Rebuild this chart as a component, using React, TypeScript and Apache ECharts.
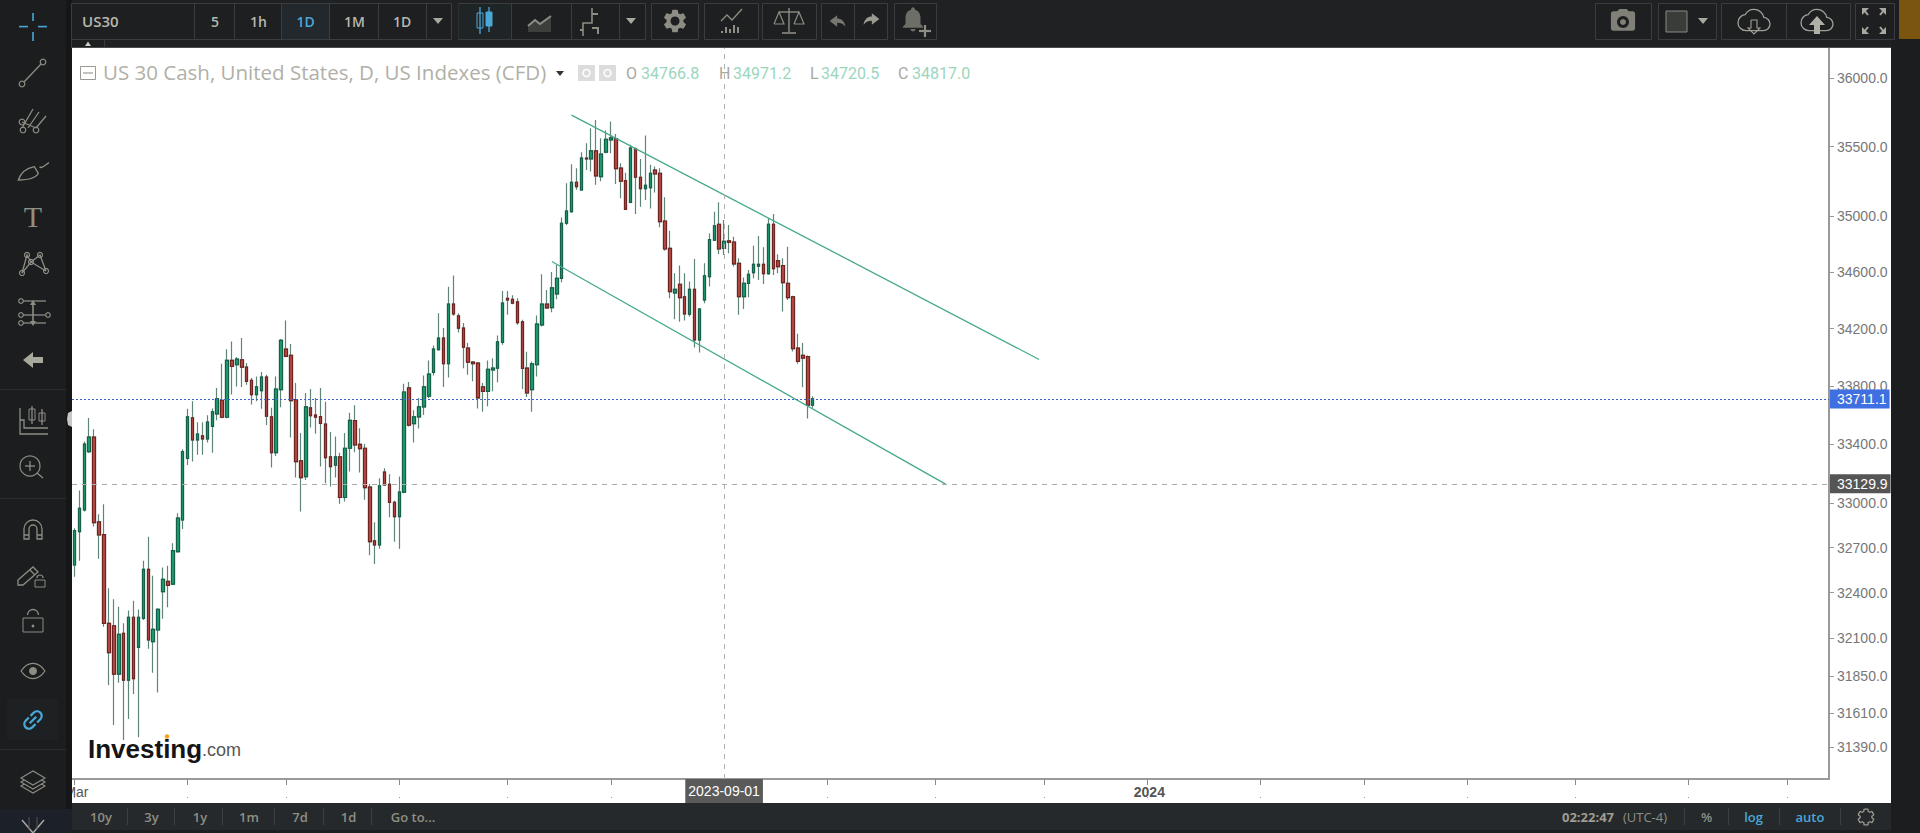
import React, { useEffect, useRef } from "react";
import * as echarts from "echarts";

// [open, close, low, high]
const ohlc: number[][] = [
  [32583,32813,32505,32829],[32807,32964,32612,33084],[32953,33401,32942,33418],[33349,33448,33340,33580],
  [33448,32868,32841,33503],[32872,32784,32625,32924],[32786,32196,32173,32991],[32196,32003,31792,32428],
  [32180,31863,31532,32355],[31863,32123,31807,32306],[32130,31824,31436,32196],[31824,32236,31571,32280],
  [32236,31833,31733,32346],[32038,32236,31453,32288],[32229,32554,32218,32612],[32554,32086,32029,32773],
  [32075,32156,31872,32512],[32152,32288,31742,32295],[32406,32487,32227,32567],[32474,32448,32302,32578],
  [32456,32679,32450,32728],[32672,32897,32665,32931],[32885,33349,32825,33365],[33302,33587,33258,33643],
  [33580,33430,33281,33695],[33430,33469,33327,33550],[33457,33436,33327,33550],[33436,33552,33411,33599],
  [33522,33622,33342,33645],[33608,33711,33564,33787],[33702,33585,33578,33955],[33585,33978,33578,34057],
  [33978,33936,33741,34111],[33948,33988,33798,34002],[33983,33931,33794,34134],[33931,33833,33810,33960],
  [33840,33741,33672,33856],[33741,33794,33695,33867],[33769,33862,33643,33897],[33862,33592,33531,33878],
  [33587,33342,33240,33650],[33342,33780,33320,33867],[33775,34118,33654,34127],[34057,34007,34000,34257],
  [34014,33700,33445,34092],[33706,33281,33172,33821],[33286,33172,32942,33476],[33179,33656,33156,33752],
  [33650,33596,33515,33780],[33599,33585,33471,33718],[33589,33543,33247,33787],[33538,33308,33134,33691],
  [33313,33247,33111,33483],[33256,33313,33172,33452],[33313,33037,32994,33342],[33037,33372,33010,33476],
  [33372,33564,33213,33615],[33562,33395,33345,33668],[33399,33370,33206,33510],[33372,33104,33021,33401],
  [33107,32739,32648,33129],[32744,32717,32590,32870],[32717,33116,32692,33168],[33209,33122,33115,33236],
  [33127,33003,32904,33195],[33005,32908,32739,33015],[32908,33073,32692,33179],[33073,33759,33066,33816],
  [33787,33531,33522,33828],[33541,33587,33411,33633],[33587,33656,33508,33718],[33656,33794,33601,33874],
  [33730,33883,33718,33978],[33895,34057,33874,34083],[34053,34134,34048,34309],[34134,33955,33794,34204],
  [33955,34372,33860,34496],[34372,34304,34290,34574],[34290,34204,34174,34309],[34204,34071,33924,34239],
  [34064,33966,33878,34099],[33966,33955,33833,33975],[33960,33718,33645,33968],[33794,33764,33622,33821],
  [33764,33917,33661,33978],[33913,33924,33764,33994],[33924,34108,33826,34153],[34104,34379,34087,34466],
  [34414,34402,34297,34466],[34407,34379,34372,34435],[34388,34243,34227,34414],[34248,33922,33780,34262],
  [33924,33752,33725,34039],[33775,33955,33622,33971],[33948,34232,33867,34292],[34227,34372,34215,34583],
  [34372,34346,34339,34473],[34348,34487,34316,34600],[34445,34555,34407,34650],[34555,34947,34527,34989],
  [34947,35035,34935,35235],[35030,35242,35023,35373],[35242,35211,35187,35344],[35187,35416,35180,35460],
  [35416,35411,35331,35525],[35411,35469,35319,35634],[35469,35288,35223,35695],[35283,35445,35249,35561],
  [35460,35554,35452,35617],[35549,35564,35452,35683],[35559,35341,35230,35593],[35344,35249,35127,35379],
  [35254,35047,35042,35310],[35097,35489,35090,35513],[35484,35278,35013,35494],[35278,35196,35066,35411],
  [35196,35220,35114,35581],[35203,35307,35052,35368],[35329,35302,35168,35356],[35307,34958,34918,35344],
  [34963,34763,34751,35133],[34768,34461,34414,34894],[34452,34477,34267,34590],[34513,34419,34248,34645],
  [34424,34304,34257,34590],[34302,34477,34285,34532],[34477,34122,34069,34692],[34122,34337,34034,34345],
  [34402,34572,34379,34661],[34567,34831,34497,34874],[34827,34928,34820,35030],[34940,34763,34728,35097],
  [34766.8,34817.0,34720.5,34971.2],[34822,34810,34732,34935],[34813,34657,34638,34850],[34661,34426,34297,34697],
  [34426,34520,34339,34560],[34518,34583,34421,34614],[34595,34654,34555,34786],[34642,34654,34543,34855],
  [34654,34588,34515,34775],[34588,34940,34581,34982],[34940,34623,34578,35013],[34680,34638,34591,34725],
  [34645,34525,34320,34697],[34520,34419,34402,34779],[34424,34060,34041,34432],[34064,33971,33955,34164],
  [34014,33994,33792,34099],[34005,33668,33576,34012],[33668,33711.1,33650,33730],
];

const priceTicks = [36000,35500,35000,34600,34200,33800,33400,33000,32700,32400,32100,31850,31610,31390];
const lastPrice = 33711.1;
const crossPrice = 33129.9;
const crossDate = "2023-09-01";
const firstDate = "2023-03-01";
const weekdayCount = 357;
const tickLabels: Record<string, string> = { "2023-03-01": "Mar", "2024-01-01": "2024" };
// channel lines: [slot index, price] pairs
const upperChannel = [[101, 35730], [196, 33985]];
const lowerChannel = [[97, 34674], [177, 33128]];

const categories: string[] = [];
{
  const d = new Date(firstDate + "T00:00:00Z");
  while (categories.length < weekdayCount) {
    const w = d.getUTCDay();
    if (w !== 0 && w !== 6) categories.push(d.toISOString().slice(0, 10));
    d.setUTCDate(d.getUTCDate() + 1);
  }
}
const monthStart = new Set<number>();
categories.forEach((c, i) => {
  if (i === 0 || c.slice(0, 7) !== categories[i - 1].slice(0, 7)) monthStart.add(i);
});

const paths: Record<string, string> = {
  gear: "M19.43 12.98c.04-.32.07-.64.07-.98s-.03-.66-.07-.98l2.11-1.65c.19-.15.24-.42.12-.64l-2-3.46c-.12-.22-.39-.3-.61-.22l-2.49 1c-.52-.4-1.08-.73-1.69-.98l-.38-2.65C14.46 2.18 14.25 2 14 2h-4c-.25 0-.46.18-.49.42l-.38 2.65c-.61.25-1.17.59-1.69.98l-2.49-1c-.23-.09-.49 0-.61.22l-2 3.46c-.13.22-.07.49.12.64l2.11 1.65c-.04.32-.07.65-.07.98s.03.66.07.98l-2.11 1.65c-.19.15-.24.42-.12.64l2 3.46c.12.22.39.3.61.22l2.49-1c.52.4 1.08.73 1.69.98l.38 2.65c.03.24.24.42.49.42h4c.25 0 .46-.18.49-.42l.38-2.65c.61-.25 1.17-.59 1.69-.98l2.49 1c.23.09.49 0 .61-.22l2-3.46c.12-.22.07-.49-.12-.64l-2.11-1.65z",
  camera: "M9 2L7.17 4H4c-1.1 0-2 .9-2 2v12c0 1.1.9 2 2 2h16c1.1 0 2-.9 2-2V6c0-1.1-.9-2-2-2h-3.17L15 2H9z",
  bell: "M12 22c1.1 0 2-.9 2-2h-4c0 1.1.9 2 2 2zm6-6v-5c0-3.07-1.64-5.64-4.5-6.32V4c0-.83-.67-1.5-1.5-1.5s-1.5.67-1.5 1.5v.68C7.63 5.36 6 7.92 6 11v5l-2 2v1h16v-1l-2-2z",
  cloud: "M19.35 10.04C18.67 6.59 15.64 4 12 4 9.11 4 6.6 5.64 5.35 8.04 2.34 8.36 0 10.91 0 14c0 3.31 2.69 6 6 6h13c2.76 0 5-2.24 5-5 0-2.64-2.05-4.78-4.65-4.96z",
  undo: "M2 12L11 5V9C16 9 20 12 21 19C18 15 15 14 11 14V19Z",
  link: "M3.9 12c0-1.71 1.39-3.1 3.1-3.1h4V7H7c-2.76 0-5 2.24-5 5s2.24 5 5 5h4v-1.9H7c-1.71 0-3.1-1.39-3.1-3.1zM8 13h8v-2H8v2zm9-6h-4v1.9h4c1.71 0 3.1 1.39 3.1 3.1s-1.39 3.1-3.1 3.1h-4V17h4c2.76 0 5-2.24 5-5s-2.24-5-5-5z",
  magnet: "M3 21V11A9 9 0 0 1 21 11V21H16V11A4 4 0 0 0 8 11V21ZM3 17H8M16 17H21",
  eye: "M1 12C5 6 9 5 12 5S19 6 23 12C19 18 15 19 12 19S5 18 1 12Z",
  brush: "M1 21C3 15 8 12 13 11L16 16C14 20 9 21 1 21ZM17 11C18 13 21 10 24 8",
  pencil: "M1 18L16 5L21 10L6 23L1 23ZM13 8L18 13",
};
Object.keys(paths).forEach((k) => {
  echarts.graphic.registerShape("ic_" + k, echarts.graphic.extendPath(paths[k], {}));
});

const ICON = "#8d8d84";
const BLUE = "#4aa8d8";
const Z = 100;

function buildChrome() {
  const g: any[] = [];
  const rect = (x: number, y: number, w: number, h: number, fill: any, stroke?: any, z = Z) =>
    g.push({ type: "rect", silent: true, z, shape: { x, y, width: w, height: h }, style: { fill, stroke, lineWidth: 1 } });
  const line = (x1: number, y1: number, x2: number, y2: number, stroke = ICON, lineWidth = 1.3, z = Z + 2) =>
    g.push({ type: "line", silent: true, z, shape: { x1, y1, x2, y2 }, style: { stroke, lineWidth } });
  const circle = (cx: number, cy: number, r: number, stroke: any = ICON, fill: any = "none", lineWidth = 1.2, z = Z + 2) =>
    g.push({ type: "circle", silent: true, z, shape: { cx, cy, r }, style: { stroke, fill, lineWidth } });
  const poly = (points: number[][], fill: any, stroke: any = "none", z = Z + 2) =>
    g.push({ type: "polygon", silent: true, z, shape: { points }, style: { fill, stroke, lineWidth: 1.2 } });
  const pline = (points: number[][], stroke = ICON, lineWidth = 1.3, z = Z + 2) =>
    g.push({ type: "polyline", silent: true, z, shape: { points }, style: { stroke, lineWidth, fill: "none" } });
  const txt = (x: number, y: number, text: string, fill: string, font: string, align = "center", z = Z + 3) =>
    g.push({ type: "text", silent: true, z, x, y, style: { text, fill, font, align, verticalAlign: "middle" } });
  const icon = (name: string, cx: number, cy: number, size: number, style: any, extra: any = {}, z = Z + 2) => {
    const s = size / 24;
    g.push({ type: "ic_" + name, silent: true, z, x: cx - 12 * s, y: cy - 12 * s, scaleX: s, scaleY: s, style: { lineWidth: 1.3 / s, ...style }, ...extra });
  };

  // panels
  rect(0, 0, 1920, 48, "#1f2123");
  rect(0, 0, 66, 833, "#1b1d1f");
  rect(66, 0, 6, 833, "#151617");
  rect(1891, 0, 29, 833, "#1b1d1f");
  rect(1899, 0, 21, 39, "#7a5510", undefined, Z + 1);
  rect(72, 803, 1819, 27, "#26292b");
  rect(72, 830, 1819, 3, "#1c1e20");
  line(72, 47.5, 1891, 47.5, "#4a4c4e", 1);

  const BOX = "#3a3d40";
  const box = (x1: number, x2: number) => rect(x1 + 0.5, 3.5, x2 - x1, 36, "#1d1f21", BOX, Z + 1);
  const div = (x: number) => line(x + 0.5, 3.5, x + 0.5, 39.5, BOX, 1);

  // top-left tool groups
  box(71, 451);
  rect(281, 4, 48, 35, "#23282c", undefined, Z + 1);
  [194, 234, 281, 329, 378, 426].forEach(div);
  rect(71.5, 39.5, 33, 8, "#1d1f21", BOX, Z + 1);
  poly([[85, 46], [91, 46], [88, 41.5]], "#cfcfc8");
  const F = '600 14px "Open Sans"';
  txt(82, 21, "US30", "#b8b8ae", '600 15px "Open Sans"', "left");
  txt(215, 21, "5", "#b8b8ae", F);
  txt(258.5, 21, "1h", "#b8b8ae", F);
  txt(305.5, 21, "1D", BLUE, F);
  txt(354.5, 21, "1M", "#b8b8ae", F);
  txt(402, 21, "1D", "#b8b8ae", F);
  const arrow = (x: number, y = 21) => poly([[x - 5, y - 3], [x + 5, y - 3], [x, y + 3]], "#a8a8a0");
  arrow(438);

  box(458, 645);
  [511, 571, 619].forEach(div);
  rect(458.5, 4, 52, 35, "#1f2427", undefined, Z + 1);
  line(480, 7, 480, 34, BLUE, 1.3);
  rect(477, 13, 6, 15, "none", BLUE, Z + 2);
  line(489, 7, 489, 32, BLUE, 1.3);
  rect(486, 12, 6, 14, BLUE, BLUE, Z + 2);
  poly([[528, 32], [528, 26], [535, 20], [540, 24], [551, 16], [551, 32]], "#3d3f3d");
  pline([[528, 26], [535, 20], [540, 24], [551, 16]], ICON, 2);
  pline([[583, 36], [583, 23], [592, 23], [592, 8]], ICON, 1.6);
  pline([[592, 14], [598, 14]], ICON, 2);
  pline([[592, 28], [598, 28], [598, 34]], ICON, 2);
  pline([[583, 30], [580, 30]], ICON, 2);
  arrow(631);

  box(651, 698);
  icon("gear", 675, 21, 27, { fill: ICON, stroke: "none" });
  circle(675, 21, 4.5, "none", "#1d1f21", 0, Z + 3);

  box(704, 758);
  [[722, 31], [726, 27], [730, 29], [734, 25], [738, 27]].forEach(([x, y]) => line(x, y, x, 33, ICON, 2));
  pline([[721, 21], [727, 15], [732, 20], [742, 9]], ICON, 1.3);

  box(762, 816);
  line(789, 8, 789, 32, ICON, 1.4);
  line(779, 12, 799, 12, ICON, 1.4);
  line(782, 33, 796, 33, ICON, 1.6);
  pline([[774, 24], [779, 12], [784, 24], [774, 24]], ICON, 1.2);
  pline([[794, 24], [799, 12], [804, 24], [794, 24]], ICON, 1.2);

  box(821, 887);
  div(854);
  icon("undo", 838, 21, 20, { fill: "#77776f", stroke: "none" });
  g.push({ type: "ic_undo", silent: true, z: Z + 2, x: 881, y: 9, scaleX: -20 / 24, scaleY: 20 / 24, style: { fill: "#9a9a90", stroke: "none" } });

  box(894, 936);
  icon("bell", 913, 19, 30, { fill: "#6e6e68", stroke: "none" });
  line(925, 25, 925, 37, ICON, 2.2);
  line(919, 31, 931, 31, ICON, 2.2);

  // top-right tool groups
  box(1595, 1651);
  icon("camera", 1623, 21, 29, { fill: "#808078", stroke: "none" });
  circle(1623, 22, 6, "none", "#1d1f21", 0, Z + 3);
  circle(1623, 22, 3, "none", "#808078", 0, Z + 3);
  box(1658, 1716);
  rect(1666, 11, 21, 21, "#3a3c3a", "#8a8a84", Z + 2);
  arrow(1703);
  box(1721, 1850);
  div(1786);
  icon("cloud", 1754, 20, 32, { fill: "none", stroke: "#a0a098" });
  pline([[1751, 20], [1757, 20], [1757, 28], [1760, 28], [1754, 34], [1748, 28], [1751, 28], [1751, 20]], "#a0a098", 1.1);
  icon("cloud", 1817, 20, 32, { fill: "none", stroke: "#a0a098" });
  poly([[1817, 16], [1825, 25], [1820, 25], [1820, 34], [1814, 34], [1814, 25], [1809, 25]], "#b0b0a6");
  box(1855, 1894);
  const ax = 1874;
  [[-1, -1], [1, -1], [-1, 1], [1, 1]].forEach(([sx, sy]) => {
    poly([[ax + sx * 12, 21 + sy * 13], [ax + sx * 5, 21 + sy * 13], [ax + sx * 12, 21 + sy * 6]], "#a8a8a0");
    line(ax + sx * 10, 21 + sy * 11, ax + sx * 6, 21 + sy * 6, "#a8a8a0", 2);
  });

  // left toolbar
  const cx = 33;
  line(19, 26.6, 28, 26.6, BLUE, 1.6);
  line(38, 26.6, 47, 26.6, BLUE, 1.6);
  line(33, 13, 33, 21, BLUE, 1.6);
  line(33, 32, 33, 41, BLUE, 1.6);

  line(24, 82, 41, 64, ICON);
  circle(22, 84, 2.8);
  circle(43, 62, 2.8);

  [[22, 128, 33, 109], [28, 128, 39, 112], [36, 128, 46, 116]].forEach(([a, b, c, d]) => line(a, b, c, d));
  line(22, 122, 36, 128);
  circle(22, 122, 2.8);
  circle(23, 130, 2.8);
  circle(36, 130, 2.8);

  icon("brush", cx, 168, 32, { fill: "none", stroke: ICON });

  txt(cx, 216, "T", "#8f8f85", '30px "Liberation Serif"');

  const p = [[22, 273], [27, 255], [31, 262], [40, 255], [46, 271]];
  pline(p);
  pline([[22, 273], [31, 262], [46, 271]]);
  p.forEach(([x, y]) => circle(x, y, 2.5));

  line(23, 301, 46, 301);
  line(23, 315, 45, 315);
  line(23, 323, 46, 323);
  [[21, 301], [21, 315], [21, 323], [48, 315]].forEach(([x, y]) => circle(x, y, 2.3));
  line(33, 304, 33, 322, ICON, 1.6);
  poly([[33, 300], [36, 305], [30, 305]], ICON);
  poly([[33, 326], [36, 321], [30, 321]], ICON);

  poly([[23, 360], [33, 352], [33, 357], [43, 357], [43, 363], [33, 363], [33, 368]], "#a8a89c");

  line(0, 389.5, 66, 389.5, "#2a2c2e", 1);
  pline([[20, 408], [20, 434], [48, 434]], ICON);
  pline([[20, 420], [24, 420], [24, 428], [48, 428]], ICON);
  rect(29, 409, 6, 11, "none", ICON, Z + 2);
  line(32, 406, 32, 424);
  rect(39, 413, 6, 8, "none", ICON, Z + 2);
  line(42, 409, 42, 425);

  circle(30, 466, 10);
  line(37, 473, 43, 478);
  line(25, 466, 35, 466);
  line(30, 461, 30, 471);
  line(0, 498.5, 66, 498.5, "#2a2c2e", 1);

  icon("magnet", cx, 530, 24, { fill: "none", stroke: ICON });

  icon("pencil", 29, 574, 24, { fill: "none", stroke: ICON });
  rect(35, 580, 10, 7, "none", ICON, Z + 2);
  g.push({ type: "arc", silent: true, z: Z + 2, shape: { cx: 40, cy: 578, r: 3, startAngle: Math.PI, endAngle: 0 }, style: { stroke: ICON, fill: "none", lineWidth: 1.2 } });

  rect(23, 618, 20, 14, "none", ICON, Z + 2);
  g.push({ type: "arc", silent: true, z: Z + 2, shape: { cx: 33, cy: 615, r: 5.5, startAngle: Math.PI, endAngle: 0 }, style: { stroke: ICON, fill: "none", lineWidth: 1.3 } });
  circle(33, 626, 1.4, "none", ICON);

  icon("eye", cx, 671, 26, { fill: "none", stroke: ICON });
  circle(33, 671, 4, "none", ICON);

  rect(7, 699, 51, 41, "#1e2124", undefined, Z + 1);
  g.push({ type: "ic_link", silent: true, z: Z + 2, x: 21, y: 708, scaleX: 1.15, scaleY: 1.15, originX: 12, originY: 12, rotation: Math.PI / 4, style: { fill: BLUE, stroke: "none" } });
  line(0, 749.5, 66, 749.5, "#2a2c2e", 1);

  [786, 782, 778].forEach((y, i) =>
    g.push({ type: "polygon", silent: true, z: Z + 2 + i, shape: { points: [[21, y], [33, y - 7], [45, y], [33, y + 7]] }, style: { fill: "#1b1d1f", stroke: ICON, lineWidth: 1.1 } })
  );
  rect(0, 809, 72, 24, "#1c2029", undefined, Z + 1);
  pline([[22, 820], [33, 833], [44, 820]], "#a8a8a0", 1.5);
  line(29, 817, 29, 830, "#555", 1);
  line(37, 817, 37, 830, "#555", 1);

  poly([[72, 411], [68, 413], [67, 419], [68, 425], [72, 427]], "#c8c8c4");

  // legend line
  rect(80.5, 66.5, 15, 13, "#fff", "#9a9a94", Z);
  line(83, 73, 93, 73, "#9a9a94", 1.2, Z);
  txt(103, 72, "US 30 Cash, United States, D, US Indexes (CFD)", "#b0b0a8", '20.5px "Open Sans"', "left", Z);
  poly([[556, 71], [564, 71], [560, 76]], "#333", "none", Z);
  rect(578, 65, 17, 16, "#dcdcdc", undefined, Z);
  circle(586.5, 73, 3.5, "#fff", "none", 1.5, Z);
  rect(599, 65, 17, 16, "#dcdcdc", undefined, Z);
  circle(607.5, 73, 3.5, "#fff", "none", 1.5, Z);
  const V = '16px "Roboto"';
  const LC = "#a8a8a0";
  const VC = "#9bd6bc";
  txt(626, 73, "O", LC, V, "left", Z);
  txt(641, 73, "34766.8", VC, V, "left", Z);
  txt(719, 73, "H", LC, V, "left", Z);
  txt(733, 73, "34971.2", VC, V, "left", Z);
  txt(810, 73, "L", LC, V, "left", Z);
  txt(821, 73, "34720.5", VC, V, "left", Z);
  txt(898, 73, "C", LC, V, "left", Z);
  txt(912, 73, "34817.0", VC, V, "left", Z);

  // investing logo
  txt(88, 749, "Investing", "#151515", 'bold 26px "Liberation Sans"', "left", Z);
  txt(202, 750, ".com", "#555", '18px "Liberation Sans"', "left", Z);
  circle(167, 736.5, 2.2, "none", "#f4a41c", 0, Z + 1);

  // bottom bar
  const B = '600 13px "Open Sans"';
  const BC = "#8e8e85";
  [["10y", 101], ["3y", 151.5], ["1y", 200], ["1m", 249], ["7d", 300], ["1d", 348.5], ["Go to...", 413]].forEach(([t, x]) =>
    txt(x as number, 817, t as string, BC, B)
  );
  [127, 174, 222, 274, 323, 371, 1684, 1728, 1779, 1840].forEach((x) => line(x + 0.5, 808, x + 0.5, 825, "#3c3f41", 1));
  txt(1588, 817, "02:22:47", "#a09c92", '700 13px "Open Sans"');
  txt(1645, 817, "(UTC-4)", "#8e8e85", '13px "Open Sans"');
  txt(1706.5, 817, "%", BC, B);
  txt(1753.5, 817, "log", BLUE, B);
  txt(1810, 817, "auto", BLUE, B);
  icon("gear", 1866, 817, 19, { fill: "none", stroke: "#9a9a90" });
  return g;
}

export default function App() {
  const ref = useRef<HTMLDivElement>(null);
  useEffect(() => {
    document.body.style.margin = "0";
    const chart = echarts.init(ref.current!, undefined, { renderer: "svg" });
    const at = (p: number[]) => ({ coord: [categories[p[0]], p[1]] });
    const channel = { lineStyle: { color: "#46a98c", width: 1.3, type: "solid" as const, opacity: 1 }, label: { show: false } };
    chart.setOption({
      animation: false,
      backgroundColor: "#ffffff",
      graphic: { elements: buildChrome() },
      grid: { left: 72, top: 48, width: 1757, height: 731, containLabel: false },
      xAxis: [
        {
          type: "category",
          data: categories,
          boundaryGap: true,
          axisLine: { lineStyle: { color: "#999", width: 2 } },
          axisTick: { show: true, alignWithLabel: true, length: 6, lineStyle: { color: "#888" }, interval: (i: number) => monthStart.has(i) },
          axisLabel: {
            interval: (_i: number, v: string) => v in tickLabels,
            formatter: (v: string) => (tickLabels[v] === "2024" ? "{b|2024}" : tickLabels[v] || ""),
            color: "#555",
            fontFamily: "Liberation Sans",
            fontSize: 14,
            margin: 6,
            padding: [0, 0, 0, 4],
            rich: { b: { fontWeight: "bold", fontSize: 14, color: "#555", fontFamily: "Liberation Sans" } },
          },
          splitLine: { show: false },
        },
        {
          type: "category",
          data: categories,
          position: "bottom",
          offset: 18,
          boundaryGap: true,
          axisLine: { show: false },
          axisTick: { show: true, alignWithLabel: true, length: 1, lineStyle: { color: "#999" }, interval: (i: number) => monthStart.has(i) },
          axisLabel: { show: false },
        },
      ],
      yAxis: {
        type: "log",
        position: "right",
        min: 31185,
        max: 36225,
        axisLine: { show: true, lineStyle: { color: "#999", width: 2 } },
        axisTick: { show: true, length: 5, inside: false, lineStyle: { color: "#999" }, customValues: priceTicks },
        axisLabel: {
          customValues: priceTicks,
          formatter: (v: number) => Number(v).toFixed(1),
          color: "#777",
          fontFamily: "Liberation Sans",
          fontSize: 14,
          margin: 8,
        },
        splitLine: { show: false },
      },
      series: [
        {
          type: "candlestick",
          data: ohlc,
          barWidth: 3,
          clip: false,
          itemStyle: { color: "#5f8577", color0: "#5f8577", borderColor: "#5f8577", borderColor0: "#5f8577", borderWidth: 1.2 },
          markLine: {
            silent: true,
            symbol: ["none", "none"],
            animation: false,
            data: [
              [{ ...at(upperChannel[0]), ...channel }, at(upperChannel[1])],
              [{ ...at(lowerChannel[0]), ...channel }, at(lowerChannel[1])],
              {
                xAxis: crossDate,
                lineStyle: { color: "#b0b0b0", width: 1, type: [5, 5] },
                label: { show: true, position: "start", formatter: crossDate, color: "#fff", backgroundColor: "#5a5a5a", fontFamily: "Liberation Sans", fontSize: 14, padding: [5, 3, 5, 3], distance: 0 },
              },
              {
                yAxis: crossPrice,
                lineStyle: { color: "#aaa", width: 1, type: [5, 5] },
                label: { show: true, position: "end", formatter: crossPrice.toFixed(1), color: "#fff", backgroundColor: "#555", fontFamily: "Liberation Sans", fontSize: 14, padding: [3, 3, 2, 7], distance: 1 },
              },
              {
                yAxis: lastPrice,
                lineStyle: { color: "#3d62c8", width: 1, type: [2, 2] },
                label: { show: true, position: "end", formatter: lastPrice.toFixed(1), color: "#fff", backgroundColor: "#3f6fe0", fontFamily: "Liberation Sans", fontSize: 14, padding: [3, 3, 2, 7], distance: 1 },
              },
            ],
          },
        },
        {
          type: "candlestick",
          data: ohlc.map(([o, c]) => [o, c, Math.min(o, c), Math.max(o, c)]),
          barWidth: 3,
          clip: false,
          itemStyle: { color: "#1e9e6e", color0: "#b84a45", borderColor: "#14604a", borderColor0: "#6f2422", borderWidth: 1.2 },
        },
      ],
    });
    return () => chart.dispose();
  }, []);
  return <div ref={ref} style={{ position: "fixed", left: 0, top: 0, width: 1920, height: 833 }} />;
}
